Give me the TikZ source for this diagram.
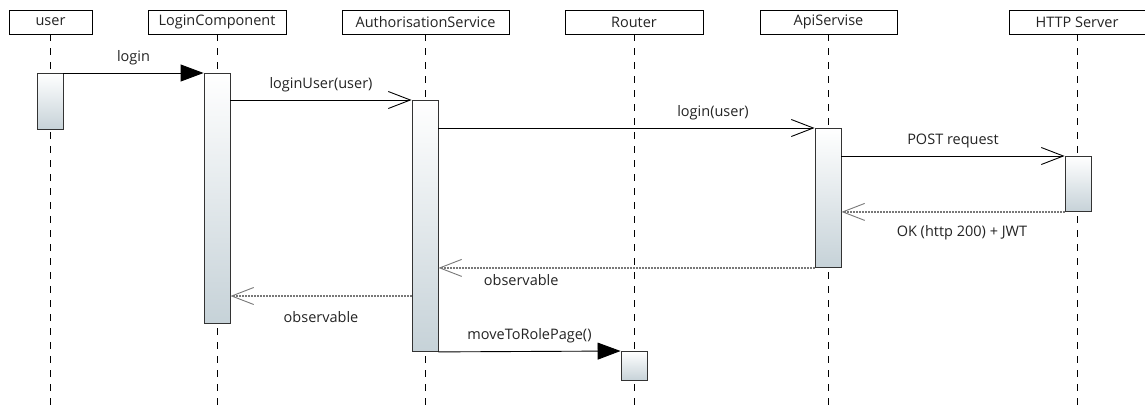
\documentclass[tikz,border=0pt]{standalone}
\usepackage{fontspec}
\setmainfont{Open Sans}
\usetikzlibrary{arrows.meta,positioning,calc}

\definecolor{barbot}{RGB}{198,210,216}
\definecolor{txt}{RGB}{35,35,35}
\definecolor{retgray}{RGB}{120,120,120}

\tikzset{
    head/.style={draw, fill=white, line width=0.9pt, minimum height=24pt, inner sep=0pt, text=txt, font=\fontsize{14.5}{16}\selectfont},
    life/.style={line width=1pt, dash pattern=on 7pt off 7pt},
    bar/.style={draw=black!80, line width=0.9pt, top color=white, bottom color=barbot, minimum width=26pt, inner sep=0pt, anchor=north},
    call/.style={line width=0.9pt, -{Triangle[length=23pt,width=17pt]}},
    msg/.style={line width=0.9pt, -{Straight Barb[length=22pt,width=17pt,line width=0.9pt]}},
    ret/.style={draw=retgray, line width=1.8pt, dash pattern=on 2pt off 1pt, -{Straight Barb[length=22pt,width=17pt,line width=0.9pt]}},
    lbl/.style={text=txt, inner sep=0pt, font=\fontsize{14.5}{16}\selectfont}
}

\begin{document}
\begin{tikzpicture}[x=1pt, y=-1pt]
        \useasboundingbox (0,0) rectangle (1145,405);

        % participants
        \node[head, minimum width=83pt]  (user) at (50.5,22) {user};
        \node[head, minimum width=138pt] (login) at (217,22) {LoginComponent};
        \node[head, minimum width=167pt] (auth) at (425.5,22) {AuthorisationService};
        \node[head, minimum width=138pt] (router) at (634,22) {Router};
        \node[head, minimum width=137pt] (api) at (828.5,22) {ApiServise};
        \node[head, minimum width=136pt] (http) at (1077,22) {HTTP Server};

        % lifelines
        \foreach \p in {user, login, auth, router, api, http}
            \draw[life] (\p.south) -- (\p.south |- 0,405);

        % activations
        \node[bar, minimum height=56pt]  (userbar) at (50,73) {};
        \node[bar, minimum height=250pt] (loginbar) at (217,73) {};
        \node[bar, minimum height=251pt] (authbar) at (425,100) {};
        \node[bar, minimum height=139pt] (apibar) at (828,128) {};
        \node[bar, minimum height=55pt]  (httpbar) at (1078,156) {};
        \node[bar, minimum height=29pt]  (routerbar) at (634,351) {};

        % messages
        \draw[call] (userbar.north east) -- node[lbl, above=8pt] (m1) {login} (loginbar.north west);
        \draw[msg] (loginbar.east |- authbar.north) -- node[lbl, above=8pt] (m2) {loginUser(user)} (authbar.north west);
        \draw[msg] (authbar.east |- apibar.north) -- node[lbl, above=8pt, pos=0.73] (m3) {login(user)} (apibar.north west);
        \draw[msg] (apibar.east |- httpbar.north) -- node[lbl, above=8pt] (m4) {POST request} (httpbar.north west);
        \draw[ret] (httpbar.south west) -- node[lbl, below=13pt, pos=0.46] (m5) {OK (http 200) + JWT} (apibar.east |- httpbar.south);
        \draw[ret] (apibar.south west) -- node[lbl, below=6pt, pos=0.78] (m6) {observable} (authbar.east |- apibar.south);
        \draw[ret] (authbar.west |- 0,296) -- node[lbl, below=15pt] (m7) {observable} (loginbar.east |- 0,296);
        \draw[call] (authbar.south east) -- node[lbl, above=8pt] (m8) {moveToRolePage()} (routerbar.north west);

    \end{tikzpicture}
\end{document}
